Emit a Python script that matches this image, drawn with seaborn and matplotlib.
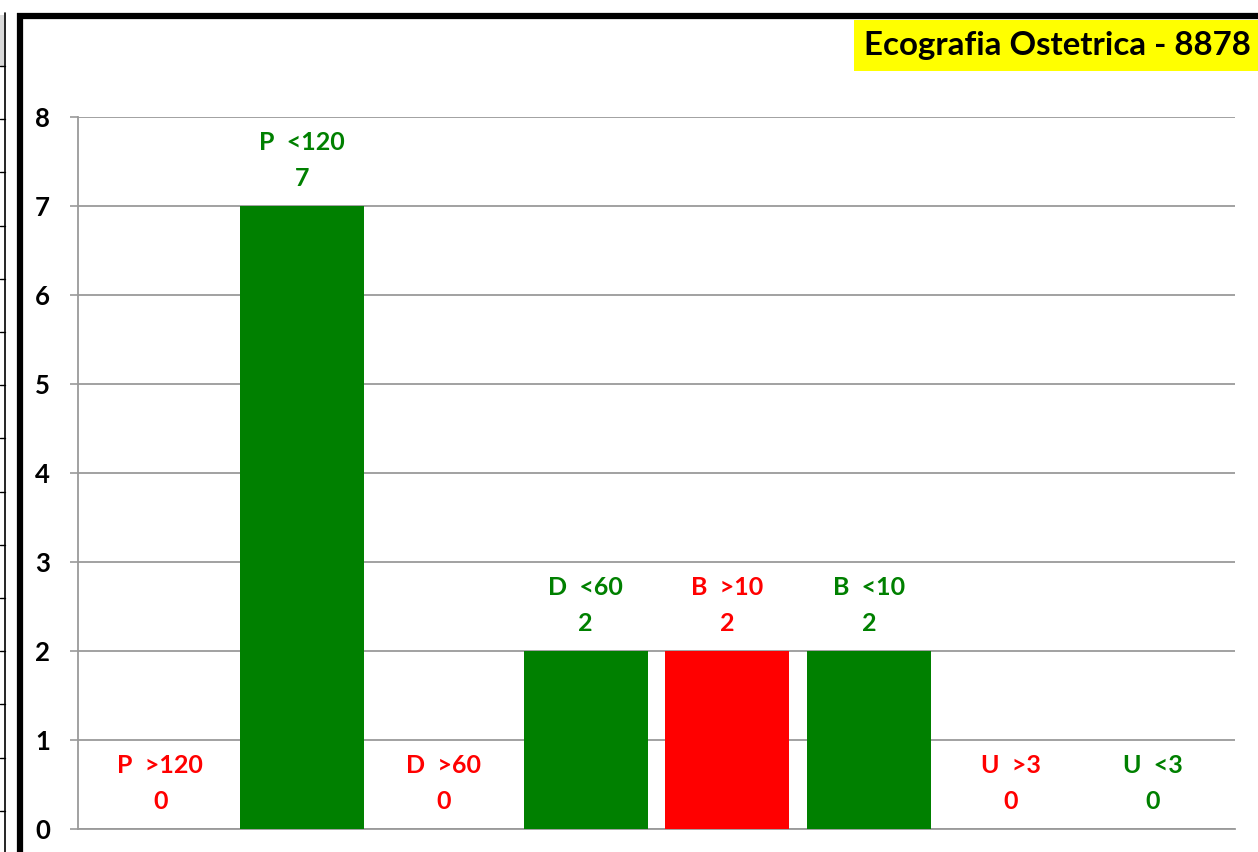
import matplotlib
matplotlib.use("Agg")
import matplotlib.pyplot as plt
import seaborn as sns
import pandas as pd
from matplotlib.lines import Line2D
from matplotlib.patches import Rectangle

categories = ["P  >120", "P  <120", "D  >60", "D  <60", "B  >10", "B  <10", "U  >3", "U  <3"]
values = [0, 7, 0, 2, 2, 2, 0, 0]
colors = ["#FF0000", "#008000", "#FF0000", "#008000", "#FF0000", "#008000", "#FF0000", "#008000"]
y_ticks = [0, 1, 2, 3, 4, 5, 6, 7, 8]
title = "Ecografia Ostetrica - 8878"

sns.set_theme(style="white")
plt.rcParams['font.family'] = ['Lato', 'DejaVu Sans']

W, H = 1258, 852
fig = plt.figure(figsize=(W / 100, H / 100), dpi=100)
fig.patch.set_facecolor("white")

def fx(px):
    return px / W

def fy(py):
    return 1 - py / H

ax = fig.add_axes([fx(78), fy(829), fx(1235) - fx(78), fy(117) - fy(829)])

df = pd.DataFrame({"cat": categories, "val": values})
sns.barplot(data=df, x="cat", y="val", hue="cat", palette=colors, legend=False,
            width=0.875, saturation=1, linewidth=0, ax=ax, zorder=3)

ax.set_ylim(0, 8)
ax.set_xlim(-0.58, 7.58)
ax.set_yticks(y_ticks)
ax.set_yticklabels([str(t) for t in y_ticks], fontsize=18.5, fontweight="bold", color="black")
ax.set_xticks([])
ax.set_xlabel("")
ax.set_ylabel("")
ax.tick_params(axis="y", direction="out", length=6, width=1.2, color="#9a9a9a", pad=14, left=True)
ax.yaxis.grid(True, color="#9a9a9a", linewidth=1.3, zorder=0)
ax.set_axisbelow(True)
for s in ["top", "right"]:
    ax.spines[s].set_visible(False)
for s in ["left", "bottom"]:
    ax.spines[s].set_color("#9a9a9a")
    ax.spines[s].set_linewidth(1.3)
ax.patch.set_alpha(0)

for i, (name, v, c) in enumerate(zip(categories, values, colors)):
    ax.annotate(str(v), xy=(i, v), xytext=(0, 19.5), textcoords="offset points",
                ha="center", va="center", fontsize=18, fontweight="bold", color=c)
    ax.annotate(name, xy=(i, v), xytext=(0, 46), textcoords="offset points",
                ha="center", va="center", fontsize=18, fontweight="bold", color=c)

# chart frame (thick black border)
fig.add_artist(Line2D([fx(20), fx(20)], [fy(13), fy(870)], transform=fig.transFigure,
                      color="black", linewidth=4.5, solid_capstyle="butt"))
fig.add_artist(Line2D([fx(17), fx(1270)], [fy(16), fy(16)], transform=fig.transFigure,
                      color="black", linewidth=4.5, solid_capstyle="butt"))

# spreadsheet grid fragment at far left
fig.add_artist(Rectangle((0, fy(66)), fx(4), fy(15) - fy(66), transform=fig.transFigure,
                         facecolor="#d9d9d9", edgecolor="none"))
fig.add_artist(Line2D([fx(4.5), fx(4.5)], [fy(13), fy(852)], transform=fig.transFigure,
                      color="black", linewidth=1.2))
for k in range(15):
    yy = 66 + 53.2 * k
    fig.add_artist(Line2D([0, fx(4.5)], [fy(yy), fy(yy)], transform=fig.transFigure,
                          color="black", linewidth=1.0))

# title box
fig.add_artist(Rectangle((fx(854), fy(71)), fx(1258) - fx(854), fy(20) - fy(71),
                         transform=fig.transFigure, facecolor="#FFFF00", edgecolor="none"))
fig.text(fx(864), fy(45), title, ha="left", va="center", fontsize=23.8, fontweight="bold",
         color="black")

fig.savefig("out.png", dpi=100)
